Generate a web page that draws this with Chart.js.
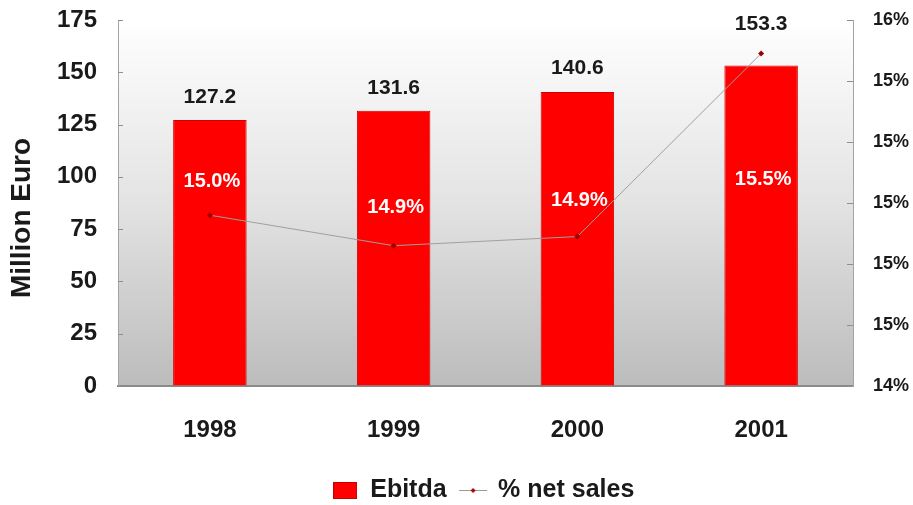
<!DOCTYPE html>
<html>
<head>
<meta charset="utf-8">
<script src="https://cdn.jsdelivr.net/npm/chart.js@4/dist/chart.umd.min.js"></script>
<style>
  html, body { margin: 0; padding: 0; background: #ffffff; }
  #wrap { width: 913px; height: 505px; }
</style>
</head>
<body>
<div id="wrap"><canvas id="c" width="913" height="505"></canvas></div>
<script>
// Ebitda (million euro) and Ebitda as a share of net sales, 1998-2001
const years = ['1998', '1999', '2000', '2001'];
const ebitda = [127.2, 131.6, 140.6, 153.3];
const netSalesPct = [14.96, 14.86, 14.89, 15.49];

// axis tick values
const leftTicks = [0, 25, 50, 75, 100, 125, 150, 175];
const rightTicks = [14.4, 14.6, 14.8, 15.0, 15.2, 15.4, 15.6];

const FONT = "'Liberation Sans', Arial, Helvetica, sans-serif";
const INK = '#1a1a1a';
const BAR_RED = '#ff0000';

// legend swatches
function makeBoxSwatch() {
  const c = document.createElement('canvas');
  c.width = 24; c.height = 17;
  const g = c.getContext('2d');
  g.fillStyle = BAR_RED;
  g.fillRect(0, 0, 24, 17);
  g.strokeStyle = '#c80000';
  g.lineWidth = 1;
  g.strokeRect(0.5, 0.5, 23, 16);
  return c;
}
function makeLineSwatch() {
  const c = document.createElement('canvas');
  c.width = 30; c.height = 17;
  const g = c.getContext('2d');
  g.strokeStyle = '#9a9a9a';
  g.lineWidth = 1;
  g.beginPath(); g.moveTo(1, 8.5); g.lineTo(29, 8.5); g.stroke();
  g.fillStyle = '#b00000';
  g.beginPath();
  g.moveTo(15, 6); g.lineTo(17.5, 8.5); g.lineTo(15, 11); g.lineTo(12.5, 8.5);
  g.closePath(); g.fill();
  return c;
}
const boxSwatch = makeBoxSwatch();
const lineSwatch = makeLineSwatch();

// grey gradient behind the plot
const panelBackground = {
  id: 'panelBackground',
  beforeDraw(chart) {
    const { ctx, chartArea: a } = chart;
    const g = ctx.createLinearGradient(0, a.top, 0, a.bottom);
    g.addColorStop(0, '#ffffff');
    g.addColorStop(0.5, '#e3e3e3');
    g.addColorStop(1, '#bcbcbc');
    ctx.save();
    ctx.fillStyle = g;
    ctx.fillRect(a.left, a.top, a.right - a.left, a.bottom - a.top);
    ctx.restore();
  }
};

// short tick marks pointing into the plot on both value axes
const innerTicks = {
  id: 'innerTicks',
  afterDraw(chart) {
    const { ctx, chartArea: a } = chart;
    ctx.save();
    ctx.strokeStyle = '#8f8f8f';
    ctx.lineWidth = 1;
    const y = chart.scales.y, y1 = chart.scales.y1;
    y.ticks.forEach((t, i) => {
      const p = Math.round(y.getPixelForTick(i)) + 0.5;
      ctx.beginPath(); ctx.moveTo(a.left, p); ctx.lineTo(a.left + 5, p); ctx.stroke();
    });
    y1.ticks.forEach((t, i) => {
      const p = Math.round(y1.getPixelForTick(i)) + 0.5;
      ctx.beginPath(); ctx.moveTo(a.right - 6, p); ctx.lineTo(a.right, p); ctx.stroke();
    });
    // rotated axis title
    ctx.translate(22, 218);
    ctx.rotate(-Math.PI / 2);
    ctx.fillStyle = INK;
    ctx.font = 'bold 28px ' + FONT;
    ctx.textAlign = 'center';
    ctx.textBaseline = 'middle';
    ctx.fillText('Million Euro', 0, 0);
    ctx.restore();
  }
};

// value labels above the bars and percentage labels inside them
const barLabels = {
  id: 'barLabels',
  afterDatasetsDraw(chart, args, opts) {
    const { ctx, chartArea: a } = chart;
    const bars = chart.getDatasetMeta(0).data;
    ctx.save();
    ctx.textAlign = 'center';
    ctx.textBaseline = 'middle';
    ctx.font = 'bold 21px ' + FONT;
    ctx.fillStyle = INK;
    ebitda.forEach((v, i) => {
      const b = bars[i];
      ctx.fillText(v.toFixed(1), b.x, b.y - opts.valueLift[i]);
    });
    ctx.font = 'bold 20px ' + FONT;
    ctx.fillStyle = '#ffffff';
    netSalesPct.forEach((v, i) => {
      const b = bars[i];
      ctx.fillText(v.toFixed(1) + '%', b.x + 2, a.top + opts.pctRows[i] * (a.bottom - a.top));
    });
    ctx.restore();
  }
};

// value axes keep their labels without pushing the plot down
function fixVertical(width) {
  return (s) => {
    s.width = width;
    s.paddingTop = 0;
    s.paddingBottom = 0;
  };
}

new Chart(document.getElementById('c'), {
  type: 'bar',
  data: {
    labels: years,
    datasets: [
      {
        type: 'bar',
        label: 'Ebitda',
        data: ebitda,
        yAxisID: 'y',
        backgroundColor: BAR_RED,
        borderColor: '#d00000',
        borderWidth: 1,
        categoryPercentage: 1,
        barPercentage: 0.4,
        order: 2
      },
      {
        type: 'line',
        label: '% net sales',
        data: netSalesPct,
        yAxisID: 'y1',
        borderColor: '#a0a0a0',
        borderWidth: 1,
        pointStyle: 'rectRot',
        pointRadius: 3,
        pointBackgroundColor: '#9a0000',
        pointBorderColor: '#9a0000',
        pointBorderWidth: 0,
        tension: 0,
        order: 1
      }
    ]
  },
  options: {
    responsive: false,
    animation: false,
    devicePixelRatio: 1,
    layout: { padding: { top: 20, left: 54, right: 0, bottom: -8 } },
    plugins: {
      tooltip: { enabled: false },
      legend: {
        position: 'bottom',
        labels: {
          usePointStyle: true,
          color: INK,
          padding: 14,
          font: { family: FONT, size: 25, weight: 'bold' },
          generateLabels: () => [
            { text: 'Ebitda', pointStyle: boxSwatch, fillStyle: BAR_RED, strokeStyle: BAR_RED, lineWidth: 0, hidden: false, datasetIndex: 0, fontColor: INK },
            { text: '% net sales', pointStyle: lineSwatch, fillStyle: '#9a0000', strokeStyle: '#9a0000', lineWidth: 0, hidden: false, datasetIndex: 1, fontColor: INK }
          ]
        }
      },
      barLabels: {
        valueLift: [23, 23, 24, 41],
        pctRows: [0.441, 0.512, 0.493, 0.436]
      }
    },
    scales: {
      x: {
        grid: { display: false, drawTicks: false },
        border: { display: true, color: '#8a8a8a', width: 2 },
        ticks: { color: INK, padding: 30, font: { family: FONT, size: 24, weight: 'bold' } },
        afterFit: (s) => { s.height = 78; }
      },
      y: {
        position: 'left',
        min: 0,
        max: 175,
        afterBuildTicks: (s) => { s.ticks = leftTicks.map(v => ({ value: v })); },
        grid: { drawOnChartArea: false, drawTicks: false },
        border: { display: true, color: '#a3a3a3', width: 1 },
        ticks: { color: INK, padding: 21, font: { family: FONT, size: 24, weight: 'bold' } },
        afterFit: fixVertical(64)
      },
      y1: {
        position: 'right',
        min: 14.4,
        max: 15.6,
        afterBuildTicks: (s) => { s.ticks = rightTicks.map(v => ({ value: v })); },
        grid: { drawOnChartArea: false, drawTicks: false },
        border: { display: true, color: '#a3a3a3', width: 1 },
        ticks: {
          color: INK,
          padding: 20,
          font: { family: FONT, size: 18, weight: 'bold' },
          callback: (v) => Math.round(v) + '%'
        },
        afterFit: fixVertical(60)
      }
    }
  },
  plugins: [panelBackground, innerTicks, barLabels]
});
</script>
</body>
</html>
